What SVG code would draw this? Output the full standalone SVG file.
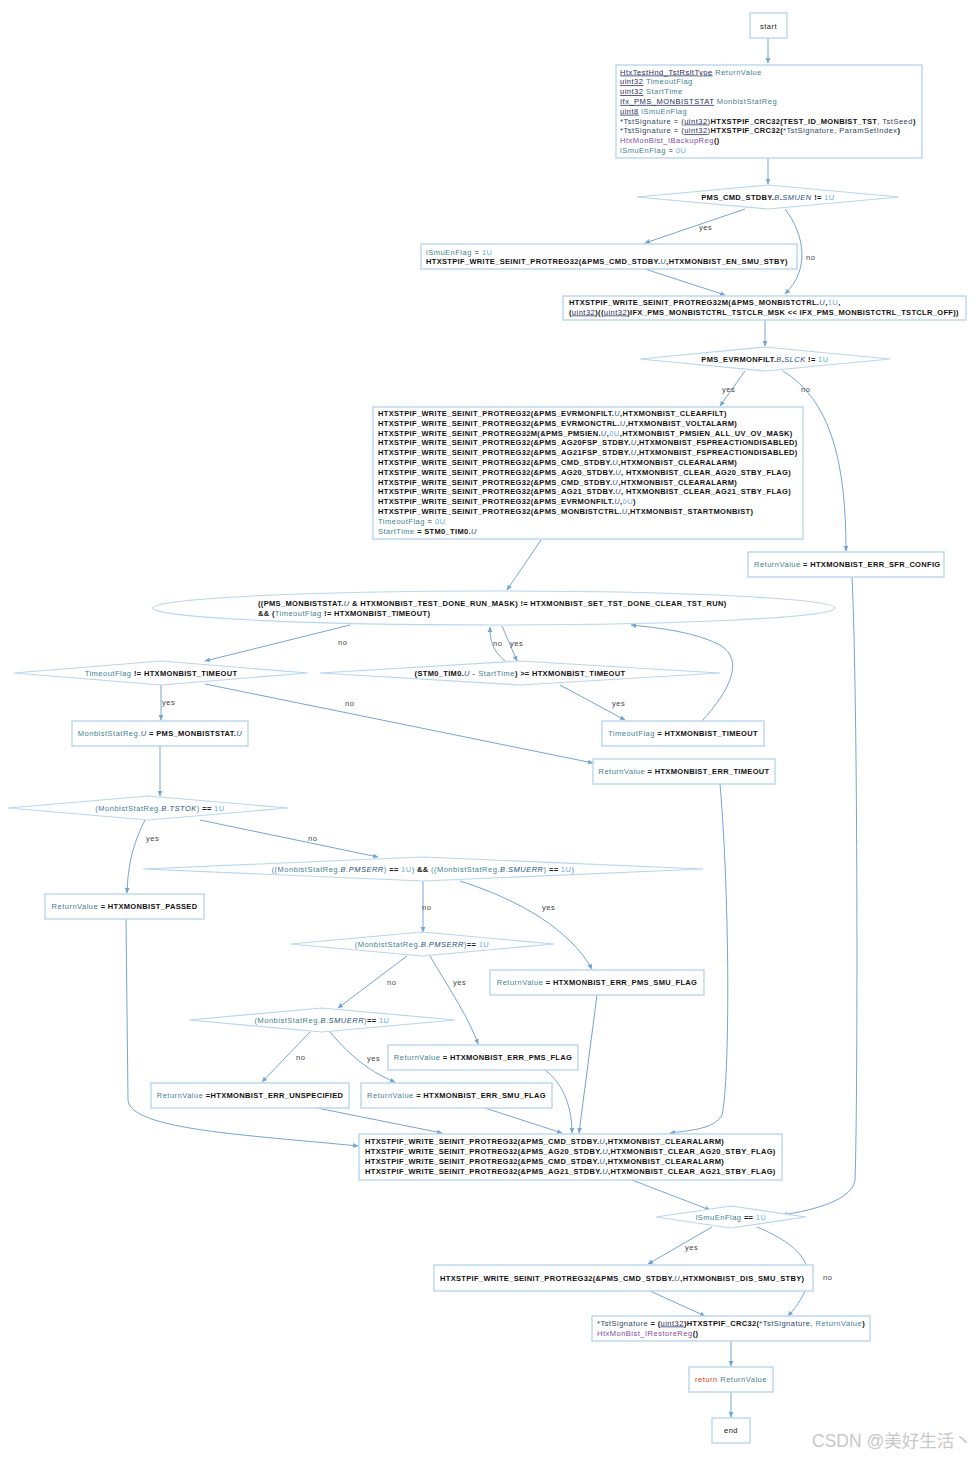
<svg xmlns="http://www.w3.org/2000/svg" width="980" height="1458" viewBox="0 0 980 1458">
<style>
text{font-family:"Liberation Sans",Arial,sans-serif;font-size:7.5px;letter-spacing:0.5px;fill:#222}
.box{fill:#fff;stroke:#b8d6ee;stroke-width:1.4}
.dia{fill:#fff;stroke:#b8d6ee;stroke-width:1.2}
.e{fill:none;stroke:#74a6d2;stroke-width:1}
.b{font-weight:bold;fill:#111;letter-spacing:0.33px}
.v{fill:#3f7f8e}
.p{fill:#2d4660}
.n{fill:#66aee4}
.m{font-style:italic;fill:#26507e}
.ty{fill:#1f2d5c;text-decoration:underline}
.f{fill:#7c4ca4}
.k{fill:#e6401e}
.l{fill:#444}
.c{text-anchor:middle}
</style>
<defs>
<marker id="ah" markerWidth="6" markerHeight="6" refX="5" refY="3" orient="auto" markerUnits="userSpaceOnUse">
<path d="M0,0.6 L5.5,3 L0,5.4 Z" fill="#74a6d2"/>
</marker>
</defs>
<rect width="980" height="1458" fill="#fff"/>

<g id="connectors">
<path class="e" marker-end="url(#ah)" d="M768,38 L768,63"/>
<path class="e" marker-end="url(#ah)" d="M768,158 L768,184"/>
<path class="e" marker-end="url(#ah)" d="M745,209 L645,243"/>
<text class="l" x="699" y="230">yes</text>
<path class="e" marker-end="url(#ah)" d="M785,209 C805,235 810,270 785,294"/>
<text class="l" x="806" y="260">no</text>
<path class="e" marker-end="url(#ah)" d="M645,269 L725,295"/>
<path class="e" marker-end="url(#ah)" d="M765,320 L765,346"/>
<path class="e" marker-end="url(#ah)" d="M745,371 L720,406"/>
<text class="l" x="722" y="392">yes</text>
<path class="e" marker-end="url(#ah)" d="M783,371 C830,400 846,460 846,551"/>
<text class="l" x="801" y="392">no</text>
<path class="e" marker-end="url(#ah)" d="M541,540 L507,590"/>
<path class="e" marker-end="url(#ah)" d="M852,577 C858,700 858,1100 855,1180 C852,1200 815,1210 782,1215"/>
<path class="e" marker-end="url(#ah)" d="M350,625 L205,661"/>
<text class="l" x="338" y="645">no</text>
<path class="e" marker-end="url(#ah)" d="M502,626 L517,661"/>
<text class="l" x="510" y="646">yes</text>
<path class="e" marker-end="url(#ah)" d="M505,661 C492,650 490,640 490,627"/>
<text class="l" x="493" y="646">no</text>
<path class="e" marker-end="url(#ah)" d="M702,721 C730,690 745,660 720,645 C695,632 660,628 631,625"/>
<path class="e" marker-end="url(#ah)" d="M161,685 L161,720"/>
<text class="l" x="162" y="705">yes</text>
<path class="e" marker-end="url(#ah)" d="M205,684 L593,763"/>
<text class="l" x="345" y="706">no</text>
<path class="e" marker-end="url(#ah)" d="M560,685 L625,720"/>
<text class="l" x="612" y="706">yes</text>
<path class="e" marker-end="url(#ah)" d="M160,746 L160,796"/>
<path class="e" marker-end="url(#ah)" d="M145,820 C135,840 128,860 127,893"/>
<text class="l" x="146" y="841">yes</text>
<path class="e" marker-end="url(#ah)" d="M200,820 L378,857"/>
<text class="l" x="308" y="841">no</text>
<path class="e" marker-end="url(#ah)" d="M423,881 L423,932"/>
<text class="l" x="422" y="910">no</text>
<path class="e" marker-end="url(#ah)" d="M460,881 C520,900 570,930 592,969"/>
<text class="l" x="542" y="910">yes</text>
<path class="e" marker-end="url(#ah)" d="M407,956 L338,1008"/>
<text class="l" x="387" y="985">no</text>
<path class="e" marker-end="url(#ah)" d="M430,956 C450,990 470,1020 478,1044"/>
<text class="l" x="453" y="985">yes</text>
<path class="e" marker-end="url(#ah)" d="M310,1032 L262,1082"/>
<text class="l" x="296" y="1060">no</text>
<path class="e" marker-end="url(#ah)" d="M330,1032 C345,1050 365,1070 395,1082"/>
<text class="l" x="367" y="1061">yes</text>
<path class="e" marker-end="url(#ah)" d="M720,784 C730,900 730,1080 722,1115 C715,1128 695,1130 670,1133"/>
<path class="e" marker-end="url(#ah)" d="M126,919 L128,1100 C130,1130 250,1135 358,1146"/>
<path class="e" marker-end="url(#ah)" d="M597,995 L579,1133"/>
<path class="e" marker-end="url(#ah)" d="M545,1070 C565,1085 572,1110 572,1133"/>
<path class="e" marker-end="url(#ah)" d="M317,1108 L442,1133"/>
<path class="e" marker-end="url(#ah)" d="M485,1108 L562,1133"/>
<path class="e" marker-end="url(#ah)" d="M632,1180 L710,1210"/>
<path class="e" marker-end="url(#ah)" d="M712,1227 L648,1264"/>
<text class="l" x="685" y="1250">yes</text>
<path class="e" marker-end="url(#ah)" d="M757,1227 C800,1245 830,1270 788,1316"/>
<text class="l" x="823" y="1280">no</text>
<path class="e" marker-end="url(#ah)" d="M650,1291 L705,1316"/>
<path class="e" marker-end="url(#ah)" d="M731,1341 L731,1366"/>
<path class="e" marker-end="url(#ah)" d="M731,1392 L731,1417"/>
</g>

<g id="start">
<rect class="box" x="750" y="13" width="37" height="25"/>
<text class="c" x="768.5" y="28.5">start</text>
</g>

<g id="decl">
<rect class="box" x="616" y="65" width="306" height="93"/>
<text x="620" y="74.5"><tspan class="ty">HtxTestHnd_TstRsltType</tspan><tspan class="v"> ReturnValue</tspan></text>
<text x="620" y="84.3"><tspan class="ty">uint32</tspan><tspan class="v"> TimeoutFlag</tspan></text>
<text x="620" y="94.1"><tspan class="ty">uint32</tspan><tspan class="v"> StartTime</tspan></text>
<text x="620" y="103.9"><tspan class="ty">Ifx_PMS_MONBISTSTAT</tspan><tspan class="v"> MonbistStatReg</tspan></text>
<text x="620" y="113.7"><tspan class="ty">uint8</tspan><tspan class="v"> lSmuEnFlag</tspan></text>
<text x="620" y="123.5"><tspan class="p">*TstSignature</tspan> = (<tspan class="ty">uint32</tspan>)<tspan class="b">HTXSTPIF_CRC32(TEST_ID_MONBIST_TST</tspan>, <tspan class="p">TstSeed</tspan><tspan class="b">)</tspan></text>
<text x="620" y="133.3"><tspan class="p">*TstSignature</tspan> = (<tspan class="ty">uint32</tspan>)<tspan class="b">HTXSTPIF_CRC32(</tspan><tspan class="p">*TstSignature</tspan>, <tspan class="p">ParamSetIndex</tspan><tspan class="b">)</tspan></text>
<text x="620" y="143.1"><tspan class="f">HtxMonBist_IBackupReg</tspan><tspan class="b">()</tspan></text>
<text x="620" y="152.9"><tspan class="v">lSmuEnFlag</tspan> = <tspan class="n">0U</tspan></text>
</g>

<g id="d_smuen">
<polygon class="dia" points="637,197 768,185 899,197 768,209"/>
<text class="c" x="768" y="199.5"><tspan class="b">PMS_CMD_STDBY.</tspan><tspan class="m">B</tspan><tspan class="b">.</tspan><tspan class="m">SMUEN</tspan><tspan class="b"> != </tspan><tspan class="n">1U</tspan></text>
</g>

<g id="en_smu">
<rect class="box" x="421" y="244" width="376" height="25"/>
<text x="426" y="254.5"><tspan class="v">lSmuEnFlag</tspan> = <tspan class="n">1U</tspan></text>
<text x="426" y="264"><tspan class="b">HTXSTPIF_WRITE_SEINIT_PROTREG32(&amp;PMS_CMD_STDBY.</tspan><tspan class="m">U</tspan><tspan class="b">,HTXMONBIST_EN_SMU_STBY)</tspan></text>
</g>

<g id="tstclr">
<rect class="box" x="563" y="296" width="403" height="24"/>
<text x="569" y="305"><tspan class="b">HTXSTPIF_WRITE_SEINIT_PROTREG32M(&amp;PMS_MONBISTCTRL.</tspan><tspan class="m">U</tspan><tspan class="b">,</tspan><tspan class="n">1U</tspan><tspan class="b">,</tspan></text>
<text x="569" y="314.5"><tspan class="b">(</tspan><tspan class="ty">uint32</tspan><tspan class="b">)((</tspan><tspan class="ty">uint32</tspan><tspan class="b">)IFX_PMS_MONBISTCTRL_TSTCLR_MSK &lt;&lt; IFX_PMS_MONBISTCTRL_TSTCLR_OFF))</tspan></text>
</g>

<g id="d_slck">
<polygon class="dia" points="640,359 765,347 890,359 765,371"/>
<text class="c" x="765" y="361.5"><tspan class="b">PMS_EVRMONFILT.</tspan><tspan class="m">B</tspan><tspan class="b">.</tspan><tspan class="m">SLCK</tspan><tspan class="b"> != </tspan><tspan class="n">1U</tspan></text>
</g>

<g id="setup">
<rect class="box" x="373" y="407" width="430" height="132"/>
<text x="378" y="416"><tspan class="b">HTXSTPIF_WRITE_SEINIT_PROTREG32(&amp;PMS_EVRMONFILT.</tspan><tspan class="m">U</tspan><tspan class="b">,HTXMONBIST_CLEARFILT)</tspan></text>
<text x="378" y="425.8"><tspan class="b">HTXSTPIF_WRITE_SEINIT_PROTREG32(&amp;PMS_EVRMONCTRL.</tspan><tspan class="m">U</tspan><tspan class="b">,HTXMONBIST_VOLTALARM)</tspan></text>
<text x="378" y="435.6"><tspan class="b">HTXSTPIF_WRITE_SEINIT_PROTREG32M(&amp;PMS_PMSIEN.</tspan><tspan class="m">U</tspan><tspan class="b">,</tspan><tspan class="n">0U</tspan><tspan class="b">,HTXMONBIST_PMSIEN_ALL_UV_OV_MASK)</tspan></text>
<text x="378" y="445.4"><tspan class="b">HTXSTPIF_WRITE_SEINIT_PROTREG32(&amp;PMS_AG20FSP_STDBY.</tspan><tspan class="m">U</tspan><tspan class="b">,HTXMONBIST_FSPREACTIONDISABLED)</tspan></text>
<text x="378" y="455.2"><tspan class="b">HTXSTPIF_WRITE_SEINIT_PROTREG32(&amp;PMS_AG21FSP_STDBY.</tspan><tspan class="m">U</tspan><tspan class="b">,HTXMONBIST_FSPREACTIONDISABLED)</tspan></text>
<text x="378" y="465"><tspan class="b">HTXSTPIF_WRITE_SEINIT_PROTREG32(&amp;PMS_CMD_STDBY.</tspan><tspan class="m">U</tspan><tspan class="b">,HTXMONBIST_CLEARALARM)</tspan></text>
<text x="378" y="474.8"><tspan class="b">HTXSTPIF_WRITE_SEINIT_PROTREG32(&amp;PMS_AG20_STDBY.</tspan><tspan class="m">U</tspan><tspan class="b">, HTXMONBIST_CLEAR_AG20_STBY_FLAG)</tspan></text>
<text x="378" y="484.6"><tspan class="b">HTXSTPIF_WRITE_SEINIT_PROTREG32(&amp;PMS_CMD_STDBY.</tspan><tspan class="m">U</tspan><tspan class="b">,HTXMONBIST_CLEARALARM)</tspan></text>
<text x="378" y="494.4"><tspan class="b">HTXSTPIF_WRITE_SEINIT_PROTREG32(&amp;PMS_AG21_STDBY.</tspan><tspan class="m">U</tspan><tspan class="b">, HTXMONBIST_CLEAR_AG21_STBY_FLAG)</tspan></text>
<text x="378" y="504.2"><tspan class="b">HTXSTPIF_WRITE_SEINIT_PROTREG32(&amp;PMS_EVRMONFILT.</tspan><tspan class="m">U</tspan><tspan class="b">,</tspan><tspan class="n">0U</tspan><tspan class="b">)</tspan></text>
<text x="378" y="514"><tspan class="b">HTXSTPIF_WRITE_SEINIT_PROTREG32(&amp;PMS_MONBISTCTRL.</tspan><tspan class="m">U</tspan><tspan class="b">,HTXMONBIST_STARTMONBIST)</tspan></text>
<text x="378" y="523.8"><tspan class="v">TimeoutFlag</tspan> = <tspan class="n">0U</tspan></text>
<text x="378" y="533.6"><tspan class="v">StartTime</tspan><tspan class="b"> = STM0_TIM0.</tspan><tspan class="m">U</tspan></text>
</g>

<g id="err_sfr">
<rect class="box" x="748" y="552" width="196" height="25"/>
<text x="754" y="567"><tspan class="v">ReturnValue</tspan><tspan class="b"> = HTXMONBIST_ERR_SFR_CONFIG</tspan></text>
</g>

<g id="loop">
<ellipse class="dia" cx="494" cy="608" rx="341" ry="17"/>
<text x="258" y="605.5"><tspan class="b">((PMS_MONBISTSTAT.</tspan><tspan class="m">U</tspan><tspan class="b"> &amp; HTXMONBIST_TEST_DONE_RUN_MASK) != HTXMONBIST_SET_TST_DONE_CLEAR_TST_RUN)</tspan></text>
<text x="258" y="615.5"><tspan class="b">&amp;&amp; (</tspan><tspan class="v">TimeoutFlag</tspan><tspan class="b"> != HTXMONBIST_TIMEOUT)</tspan></text>
</g>

<g id="d_timeoutflag">
<polygon class="dia" points="14,673 161,661 308,673 161,685"/>
<text class="c" x="161" y="675.5"><tspan class="v">TimeoutFlag</tspan><tspan class="b"> != HTXMONBIST_TIMEOUT</tspan></text>
</g>

<g id="d_elapsed">
<polygon class="dia" points="320,673 520,661 720,673 520,685"/>
<text class="c" x="520" y="675.5"><tspan class="b">(STM0_TIM0.</tspan><tspan class="m">U</tspan> - <tspan class="v">StartTime</tspan><tspan class="b">) &gt;= HTXMONBIST_TIMEOUT</tspan></text>
</g>

<g id="readstat">
<rect class="box" x="72" y="721" width="176" height="25"/>
<text class="c" x="160" y="736"><tspan class="v">MonbistStatReg.</tspan><tspan class="m">U</tspan><tspan class="b"> = PMS_MONBISTSTAT.</tspan><tspan class="m">U</tspan></text>
</g>

<g id="set_timeout">
<rect class="box" x="602" y="721" width="162" height="25"/>
<text class="c" x="683" y="736"><tspan class="v">TimeoutFlag</tspan><tspan class="b"> = HTXMONBIST_TIMEOUT</tspan></text>
</g>

<g id="err_timeout">
<rect class="box" x="593" y="759" width="182" height="25"/>
<text class="c" x="684" y="774"><tspan class="v">ReturnValue</tspan><tspan class="b"> = HTXMONBIST_ERR_TIMEOUT</tspan></text>
</g>

<g id="d_tstok">
<polygon class="dia" points="8,808 148,796 288,808 148,820"/>
<text class="c" x="160" y="810.5"><tspan class="v">(MonbistStatReg.</tspan><tspan class="m">B</tspan><tspan class="v">.</tspan><tspan class="m">TSTOK</tspan><tspan class="v">)</tspan><tspan class="b"> == </tspan><tspan class="n">1U</tspan></text>
</g>

<g id="d_both">
<polygon class="dia" points="143,869 423,857 703,869 423,881"/>
<text class="c" x="423" y="871.5"><tspan class="v">((MonbistStatReg.</tspan><tspan class="m">B</tspan><tspan class="v">.</tspan><tspan class="m">PMSERR</tspan><tspan class="v">)</tspan><tspan class="b"> == </tspan><tspan class="n">1U</tspan><tspan class="v">)</tspan><tspan class="b"> &amp;&amp; </tspan><tspan class="v">((MonbistStatReg.</tspan><tspan class="m">B</tspan><tspan class="v">.</tspan><tspan class="m">SMUERR</tspan><tspan class="v">)</tspan><tspan class="b"> == </tspan><tspan class="n">1U</tspan><tspan class="v">)</tspan></text>
</g>

<g id="passed">
<rect class="box" x="45" y="894" width="159" height="25"/>
<text class="c" x="124.5" y="909"><tspan class="v">ReturnValue</tspan><tspan class="b"> = HTXMONBIST_PASSED</tspan></text>
</g>

<g id="d_pmserr">
<polygon class="dia" points="290,944 422,932 554,944 422,956"/>
<text class="c" x="422" y="946.5"><tspan class="v">(MonbistStatReg.</tspan><tspan class="m">B</tspan><tspan class="v">.</tspan><tspan class="m">PMSERR</tspan><tspan class="v">)</tspan><tspan class="b">== </tspan><tspan class="n">1U</tspan></text>
</g>

<g id="err_pms_smu">
<rect class="box" x="490" y="970" width="214" height="25"/>
<text class="c" x="597" y="985"><tspan class="v">ReturnValue</tspan><tspan class="b"> = HTXMONBIST_ERR_PMS_SMU_FLAG</tspan></text>
</g>

<g id="d_smuerr">
<polygon class="dia" points="189,1020 322,1008 455,1020 322,1032"/>
<text class="c" x="322" y="1022.5"><tspan class="v">(MonbistStatReg.</tspan><tspan class="m">B</tspan><tspan class="v">.</tspan><tspan class="m">SMUERR</tspan><tspan class="v">)</tspan><tspan class="b">== </tspan><tspan class="n">1U</tspan></text>
</g>

<g id="err_pms">
<rect class="box" x="388" y="1045" width="190" height="25"/>
<text class="c" x="483" y="1060"><tspan class="v">ReturnValue</tspan><tspan class="b"> = HTXMONBIST_ERR_PMS_FLAG</tspan></text>
</g>

<g id="err_unspec">
<rect class="box" x="151" y="1083" width="198" height="25"/>
<text class="c" x="250" y="1098"><tspan class="v">ReturnValue</tspan><tspan class="b"> =HTXMONBIST_ERR_UNSPECIFIED</tspan></text>
</g>

<g id="err_smu">
<rect class="box" x="361" y="1083" width="191" height="25"/>
<text class="c" x="456.5" y="1098"><tspan class="v">ReturnValue</tspan><tspan class="b"> = HTXMONBIST_ERR_SMU_FLAG</tspan></text>
</g>

<g id="cleanup">
<rect class="box" x="359" y="1134" width="423" height="46"/>
<text x="365" y="1143.5"><tspan class="b">HTXSTPIF_WRITE_SEINIT_PROTREG32(&amp;PMS_CMD_STDBY.</tspan><tspan class="m">U</tspan><tspan class="b">,HTXMONBIST_CLEARALARM)</tspan></text>
<text x="365" y="1153.5"><tspan class="b">HTXSTPIF_WRITE_SEINIT_PROTREG32(&amp;PMS_AG20_STDBY.</tspan><tspan class="m">U</tspan><tspan class="b">,HTXMONBIST_CLEAR_AG20_STBY_FLAG)</tspan></text>
<text x="365" y="1163.5"><tspan class="b">HTXSTPIF_WRITE_SEINIT_PROTREG32(&amp;PMS_CMD_STDBY.</tspan><tspan class="m">U</tspan><tspan class="b">,HTXMONBIST_CLEARALARM)</tspan></text>
<text x="365" y="1173.5"><tspan class="b">HTXSTPIF_WRITE_SEINIT_PROTREG32(&amp;PMS_AG21_STDBY.</tspan><tspan class="m">U</tspan><tspan class="b">,HTXMONBIST_CLEAR_AG21_STBY_FLAG)</tspan></text>
</g>

<g id="d_smuflag">
<polygon class="dia" points="656,1217 731,1206 806,1217 731,1228"/>
<text class="c" x="731" y="1219.5"><tspan class="v">lSmuEnFlag</tspan><tspan class="b"> == </tspan><tspan class="n">1U</tspan></text>
</g>

<g id="dis_smu">
<rect class="box" x="434" y="1265" width="379" height="26"/>
<text x="440" y="1280.5"><tspan class="b">HTXSTPIF_WRITE_SEINIT_PROTREG32(&amp;PMS_CMD_STDBY.</tspan><tspan class="m">U</tspan><tspan class="b">,HTXMONBIST_DIS_SMU_STBY)</tspan></text>
</g>

<g id="signature">
<rect class="box" x="592" y="1316" width="278" height="25"/>
<text x="597" y="1325.5"><tspan class="p">*TstSignature</tspan><tspan class="b"> = (</tspan><tspan class="ty">uint32</tspan><tspan class="b">)HTXSTPIF_CRC32(</tspan><tspan class="p">*TstSignature</tspan>, <tspan class="v">ReturnValue</tspan><tspan class="b">)</tspan></text>
<text x="597" y="1335.5"><tspan class="f">HtxMonBist_IRestoreReg</tspan><tspan class="b">()</tspan></text>
</g>

<g id="ret">
<rect class="box" x="689" y="1367" width="84" height="25"/>
<text class="c" x="731" y="1382"><tspan class="k">return</tspan><tspan class="v"> ReturnValue</tspan></text>
</g>

<g id="end">
<rect class="box" x="712" y="1418" width="38" height="25"/>
<text class="c" x="731" y="1433">end</text>
</g>

<text x="812" y="1447" style="font-family:'Liberation Sans','Noto Sans CJK SC',sans-serif;font-size:17.5px;letter-spacing:0;fill:#c8c8c8">CSDN @美好生活丶</text>
</svg>
